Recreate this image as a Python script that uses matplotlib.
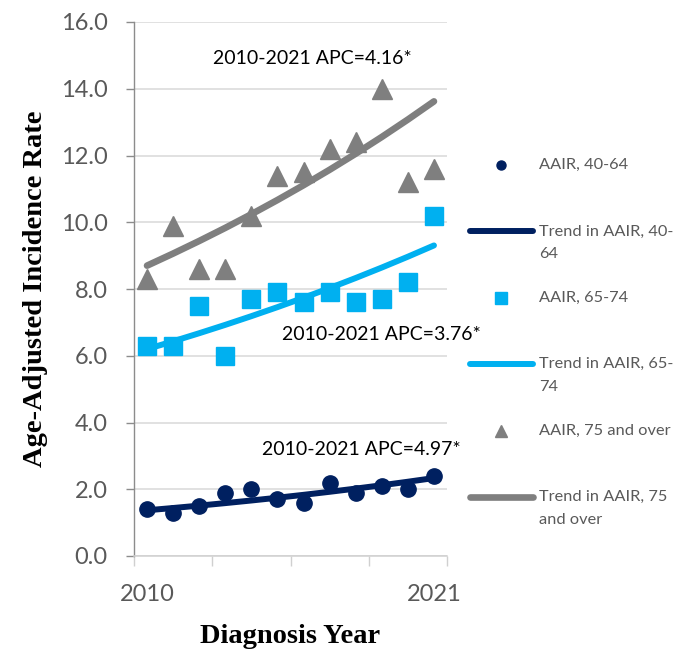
import matplotlib
matplotlib.use("Agg")
import matplotlib.pyplot as plt
import numpy as np
from matplotlib.lines import Line2D

years = np.arange(2010, 2022)

aair_40_64 = [1.4, 1.3, 1.5, 1.9, 2.0, 1.7, 1.6, 2.2, 1.9, 2.1, 2.0, 2.4]
aair_65_74 = [6.3, 6.3, 7.5, 6.0, 7.7, 7.9, 7.6, 7.9, 7.6, 7.7, 8.2, 10.2]
aair_75_up = [8.3, 9.9, 8.6, 8.6, 10.2, 11.4, 11.5, 12.2, 12.4, 14.0, 11.2, 11.6]

# joinpoint trend: fitted value in 2010 and annual percent change
trend_start = {"40-64": 1.37, "65-74": 6.2, "75 and over": 8.7}
apc = {"40-64": 4.97, "65-74": 3.76, "75 and over": 4.16}

navy = "#002060"
sky = "#00B0F0"
grey = "#7F7F7F"
txt_grey = "#595959"


def trend(grp):
    return trend_start[grp] * (1 + apc[grp] / 100.0) ** (years - 2010)


fig = plt.figure(figsize=(6.96, 6.53), dpi=100)
ax = fig.add_axes([134 / 696, 1 - 556 / 653, 313 / 696, 534 / 653])

ax.plot(years, trend("75 and over"), color=grey, lw=4.8, solid_capstyle="round", zorder=2)
ax.plot(years, aair_75_up, ls="none", marker="^", ms=14, color=grey, zorder=3)
ax.plot(years, trend("65-74"), color=sky, lw=4.3, solid_capstyle="round", zorder=2)
ax.plot(years, aair_65_74, ls="none", marker="s", ms=12.5, color=sky, zorder=3)
ax.plot(years, trend("40-64"), color=navy, lw=4.3, solid_capstyle="round", zorder=2)
ax.plot(years, aair_40_64, ls="none", marker="o", ms=11, color=navy, zorder=3)

ann_font = dict(family="Lato", fontsize=14, color="black", ha="center", va="center")
ax.text(2016.35, 14.9, "2010-2021 APC=%.2f*" % apc["75 and over"], **ann_font)
ax.text(2019.0, 6.65, "2010-2021 APC=%.2f*" % apc["65-74"], **ann_font)
ax.text(2018.2, 3.2, "2010-2021 APC=%.2f*" % apc["40-64"], **ann_font)

ax.set_xlim(2009.5, 2021.5)
ax.set_ylim(0, 16)
ax.set_yticks(np.arange(0, 17, 2))
ax.set_yticklabels(["%.1f" % v for v in np.arange(0, 17, 2)])
ax.set_xticks(np.arange(2009.5, 2022, 3))
ax.set_xticklabels([])
ax.set_xticks([2010, 2021], minor=True)
ax.set_xticklabels(["2010", "2021"], minor=True)

ax.grid(axis="y", color="#D9D9D9", lw=1.1, zorder=0)
ax.set_axisbelow(True)
for s in ["top", "right"]:
    ax.spines[s].set_visible(False)
ax.spines["left"].set_color("#8C8C8C")
ax.spines["bottom"].set_color("#D0D0D0")
ax.spines["left"].set_linewidth(1.0)
ax.spines["bottom"].set_linewidth(1.1)

ax.tick_params(axis="y", which="major", direction="out", length=6, width=1,
               color="#8C8C8C", pad=13, labelsize=17, labelcolor=txt_grey)
ax.tick_params(axis="x", which="major", direction="out", length=7, width=1,
               color="#D0D0D0")
ax.tick_params(axis="x", which="minor", length=0, pad=20, labelsize=17,
               labelcolor=txt_grey)
for lab in ax.get_yticklabels() + ax.get_xticklabels(minor=True):
    lab.set_family("Lato")

ax.set_xlabel("Diagnosis Year", family="Liberation Serif", fontweight="bold",
              fontsize=20.5)
ax.set_ylabel("Age-Adjusted Incidence Rate", family="Liberation Serif",
              fontweight="bold", fontsize=20.5)
ax.yaxis.set_label_coords(-0.275, 0.5)
ax.xaxis.set_label_coords(0.5, -0.128)

# legend drawn by hand on an overlay in pixel coordinates
lg = fig.add_axes([0, 0, 1, 1])
lg.set_xlim(0, 696)
lg.set_ylim(653, 0)
lg.axis("off")

entries = [
    ("marker", "o", navy, 6.5, ["AAIR, 40-64"]),
    ("line", None, navy, 4.3, ["Trend in AAIR, 40-", "64"]),
    ("marker", "s", sky, 8, ["AAIR, 65-74"]),
    ("line", None, sky, 4.3, ["Trend in AAIR, 65-", "74"]),
    ("marker", "^", grey, 8, ["AAIR, 75 and over"]),
    ("line", None, grey, 4.8, ["Trend in AAIR, 75", "and over"]),
]
y0 = 165
for i, (kind, mk, col, size, lines) in enumerate(entries):
    y = y0 + i * 66.4
    if kind == "marker":
        lg.add_line(Line2D([501], [y], ls="none", marker=mk, ms=size, color=col))
    else:
        lg.add_line(Line2D([470, 533], [y, y], color=col, lw=size,
                           solid_capstyle="round"))
    for j, t in enumerate(lines):
        lg.text(539, y + j * 23, t, family="Lato", fontsize=11.8, color=txt_grey,
                ha="left", va="center")

fig.savefig("out.png", dpi=100)
